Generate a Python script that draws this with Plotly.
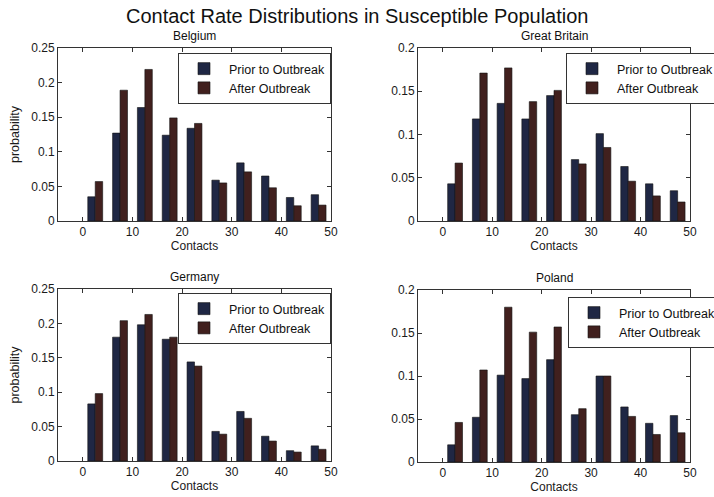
import plotly.graph_objects as go

bin_centers = [2.5, 7.5, 12.5, 17.5, 22.5, 27.5, 32.5, 37.5, 42.5, 47.5]

belgium_prior = [0.035, 0.127, 0.164, 0.124, 0.134, 0.059, 0.084, 0.065, 0.034, 0.038]
belgium_after = [0.057, 0.189, 0.219, 0.149, 0.141, 0.055, 0.071, 0.048, 0.022, 0.023]

gb_prior = [0.043, 0.118, 0.136, 0.118, 0.145, 0.071, 0.101, 0.063, 0.043, 0.035]
gb_after = [0.067, 0.171, 0.177, 0.138, 0.151, 0.066, 0.085, 0.046, 0.029, 0.022]

germany_prior = [0.083, 0.180, 0.198, 0.177, 0.144, 0.043, 0.072, 0.036, 0.015, 0.022]
germany_after = [0.098, 0.204, 0.213, 0.180, 0.138, 0.039, 0.062, 0.029, 0.013, 0.017]

poland_prior = [0.020, 0.052, 0.101, 0.097, 0.119, 0.055, 0.100, 0.064, 0.045, 0.054]
poland_after = [0.046, 0.107, 0.180, 0.151, 0.157, 0.062, 0.100, 0.053, 0.032, 0.034]

countries = ["Belgium", "Great Britain", "Germany", "Poland"]
series_names = ["Prior to Outbreak", "After Outbreak"]
x_ticks = [0, 10, 20, 30, 40, 50]

W, H = 714, 497
PRIOR_COLOR = "#1f2744"
AFTER_COLOR = "#41201e"

# panel pixel boxes: (left, right, top, bottom)
panels = [
    (58, 331, 48, 221),
    (418, 690, 48, 221),
    (58, 331, 289, 461),
    (418, 690, 290, 462),
]
ymax = [0.25, 0.2, 0.25, 0.2]
legend_pos = [(178, 53), (566, 53), (178, 293), (568, 297)]
data = [
    (belgium_prior, belgium_after),
    (gb_prior, gb_after),
    (germany_prior, germany_after),
    (poland_prior, poland_after),
]

fig = go.Figure()
layout = dict(
    width=W, height=H,
    margin=dict(l=0, r=0, t=0, b=0, autoexpand=False),
    paper_bgcolor="white", plot_bgcolor="white",
    barmode="group", bargap=0.4, bargroupgap=0.0,
    font=dict(family="Liberation Sans, Arial, sans-serif", color="#1a1a1a", size=11),
    annotations=[],
)

for i, (name, (prior, after)) in enumerate(zip(countries, data)):
    sfx = "" if i == 0 else str(i + 1)
    lg = "legend" if i == 0 else "legend" + str(i + 1)
    for vals, sname, col in [(prior, series_names[0], PRIOR_COLOR), (after, series_names[1], AFTER_COLOR)]:
        fig.add_trace(go.Bar(
            x=bin_centers, y=vals, name=sname,
            marker=dict(color=col, line=dict(color="#111111", width=0.6)),
            xaxis="x" + sfx, yaxis="y" + sfx, legend=lg,
            offsetgroup=sname,
        ))
    l, r, t, b = panels[i]
    step = 0.05
    yt = [round(k * step, 2) for k in range(int(round(ymax[i] / step)) + 1)]
    ytext = ["0" if v == 0 else ("%g" % v) for v in yt]
    layout["xaxis" + sfx] = dict(
        domain=[l / W, r / W], anchor="y" + sfx, range=[-5, 50],
        tickmode="array", tickvals=x_ticks, ticktext=[str(v) for v in x_ticks],
        ticks="inside", ticklen=4, tickcolor="#333", showline=True, linecolor="#333",
        linewidth=1, mirror="ticks", showgrid=False, zeroline=False,
        tickfont=dict(size=12), title=dict(text="Contacts", font=dict(size=12), standoff=2),
    )
    layout["yaxis" + sfx] = dict(
        domain=[1 - b / H, 1 - t / H], anchor="x" + sfx, range=[0, ymax[i]],
        tickmode="array", tickvals=yt, ticktext=ytext,
        ticks="inside", ticklen=4, tickcolor="#333", showline=True, linecolor="#333",
        linewidth=1, mirror="ticks", showgrid=False, zeroline=False,
        tickfont=dict(size=12),
        title=dict(text="probability" if i in (0, 2) else "", font=dict(size=12.5), standoff=8),
    )
    lx, ly = legend_pos[i]
    layout[lg] = dict(
        x=lx / W, y=1 - ly / H, xanchor="left", yanchor="top",
        xref="paper", yref="paper",
        bgcolor="white", bordercolor="#333", borderwidth=1,
        font=dict(size=12.5, color="#111"), itemwidth=40, tracegroupgap=0,
        traceorder="normal",
    )
    layout["annotations"].append(dict(
        text=name, x=(l + r) / 2 / W, y=1 - (t - 3) / H, xref="paper", yref="paper",
        xanchor="center", yanchor="bottom", showarrow=False, font=dict(size=12, color="#111"),
    ))

layout["annotations"].append(dict(
    text="Contact Rate Distributions in Susceptible Population",
    x=0.5, y=1 - 3 / H, xref="paper", yref="paper", xanchor="center", yanchor="top",
    showarrow=False, font=dict(size=20, color="#111"),
))

fig.update_layout(**layout)
fig.write_html(
    "out.html",
    config={"displayModeBar": False},
    post_script="document.body.style.margin='0px';",
)
